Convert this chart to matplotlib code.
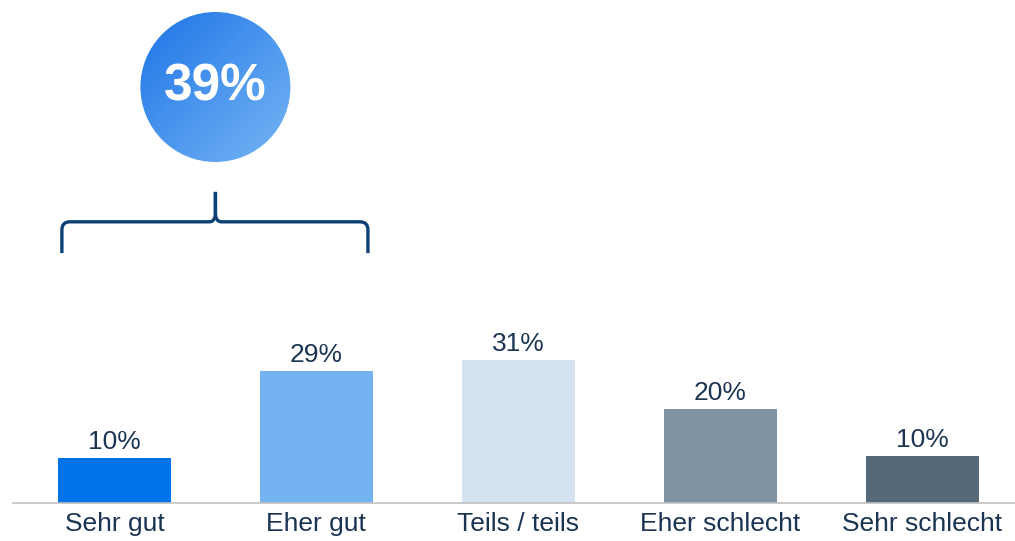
import numpy as np
import matplotlib.pyplot as plt
from matplotlib.patches import Circle, PathPatch
from matplotlib.path import Path
from matplotlib.colors import LinearSegmentedColormap

categories = ["Sehr gut", "Eher gut", "Teils / teils", "Eher schlecht", "Sehr schlecht"]
values = [9.8, 28.7, 31.1, 20.4, 10.2]
colors = ["#0074e8", "#74b3f2", "#d5e3f1", "#7f93a3", "#566978"]
top_share = "39%"
text_color = "#1b3452"

plt.rcParams['font.family'] = ['Liberation Sans', 'DejaVu Sans']

W, H = 1015, 541
fig = plt.figure(figsize=(W / 100, H / 100), dpi=100)

ax = fig.add_axes([13 / W, 38 / H, 1 - 13 / W, 1 - 38 / H])
x = np.arange(len(categories))
ax.bar(x, values, width=0.56, color=colors)
ax.set_xlim(-0.502, 4.458)
ax.set_ylim(0, 109.3)
for xi, v in zip(x, values):
    ax.annotate(f"{round(v)}%", (xi, v), xytext=(0, 6.5), textcoords="offset points",
                ha="center", va="baseline", fontsize=19, color=text_color)
ax.set_xticks(x)
ax.set_xticklabels(categories, fontsize=19, color=text_color)
ax.tick_params(axis="x", length=0, pad=6.5)
ax.set_yticks([])
for s in ["top", "right", "left"]:
    ax.spines[s].set_visible(False)
ax.spines["bottom"].set_color("#c0c0c0")
ax.spines["bottom"].set_linewidth(1.2)

# overlay in pixel coordinates (y down)
ov = fig.add_axes([0, 0, 1, 1])
ov.axis("off")


def to_px(xd, yd):
    px, py = ax.transData.transform((xd, yd))
    return px, H - py


# bracket over first two bars
xl, _ = to_px(x[0] - 0.26, 0)
xr, _ = to_px(x[1] + 0.255, 0)
xm, _ = to_px((x[0] + x[1]) / 2, 0)
_, y_leg = to_px(0, 54.3)
_, y_bar = to_px(0, 61.1)
_, y_top = to_px(0, 67.6)
r = 8
for sgn, xe in [(1, xl), (-1, xr)]:
    verts = [(xe, y_leg), (xe, y_bar + r), (xe, y_bar), (xe + sgn * r, y_bar),
             (xm - sgn * 6, y_bar), (xm, y_bar), (xm, y_bar - 9), (xm, y_top)]
    codes = [Path.MOVETO, Path.LINETO, Path.CURVE3, Path.CURVE3,
             Path.LINETO, Path.CURVE3, Path.CURVE3, Path.LINETO]
    ov.add_patch(PathPatch(Path(verts, codes), fill=False, edgecolor="#0d3f77",
                           lw=2.4, capstyle="butt", joinstyle="round"))

# gradient circle
cx, cy, rad = xm, 87, 75
g = np.linspace(0, 1, 300)
gx, gy = np.meshgrid(g, g)
grad = (gx + gy) / 2
cmap = LinearSegmentedColormap.from_list("c", ["#1a72e6", "#7ab8f5"])
pad = 6
im = ov.imshow(grad, cmap=cmap,
               extent=[cx - rad - pad, cx + rad + pad, cy + rad + pad, cy - rad - pad],
               origin="upper", interpolation="bilinear", zorder=2)
circ = Circle((cx, cy), rad, transform=ov.transData, facecolor="none", edgecolor="none")
ov.add_patch(circ)
im.set_clip_path(circ)
ov.set_xlim(0, W)
ov.set_ylim(H, 0)
ov.set_aspect("auto")
ov.text(cx, cy, top_share, ha="center", va="center", fontsize=37, fontweight="bold",
        color="white", zorder=3)

fig.savefig("out.png", dpi=100)
